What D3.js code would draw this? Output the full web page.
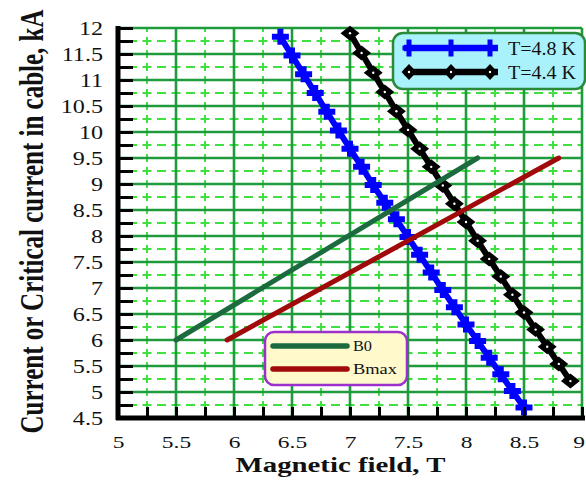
<!DOCTYPE html>
<html><head><meta charset="utf-8">
<script src="https://cdn.jsdelivr.net/npm/d3@7"></script>
<style>html,body{margin:0;padding:0;background:#fff}svg{display:block}</style>
</head><body>
<svg id="chart" width="586" height="480"></svg>
<script>
// ---- data ----
const xTickLabels = ["5","5.5","6","6.5","7","7.5","8","8.5","9"];
const yTickLabels = ["4.5","5","5.5","6","6.5","7","7.5","8","8.5","9","9.5","10","10.5","11","11.5","12"];
const fieldT48   = [6.4,6.5,6.6,6.7,6.8,6.9,7.0,7.1,7.2,7.3,7.4,7.5,7.6,7.7,7.8,7.9,8.0,8.1,8.2,8.3,8.4,8.5];
const currentT48 = [11.83,11.47,11.11,10.75,10.39,10.03,9.68,9.33,8.98,8.64,8.32,7.98,7.64,7.30,6.96,6.63,6.30,5.98,5.66,5.34,5.02,4.70];
const fieldT44   = [7.0,7.1,7.2,7.3,7.4,7.5,7.6,7.7,7.8,7.9,8.0,8.1,8.2,8.3,8.4,8.5,8.6,8.7,8.8,8.9];
const currentT44 = [11.90,11.52,11.14,10.77,10.40,10.04,9.68,9.33,8.97,8.62,8.27,7.91,7.56,7.22,6.87,6.53,6.20,5.87,5.54,5.21];
const fieldB0    = [5.5, 8.1];
const currentB0  = [6.0, 9.5];
const fieldBmax  = [5.94, 8.8];
const currentBmax= [6.0, 9.5];
const seriesNames = ["T=4.8 K","T=4.4 K","B0","Bmax"];
const xTitle = "Magnetic field, T";
const yTitle = "Current or Critical current in cable, kA";

// ---- layout ----
const svg = d3.select("#chart");
const x = d3.scaleLinear().domain([5,9]).range([118,582]);
const y = d3.scaleLinear().domain([4.5,12]).range([418,28]);
const SX = 1.34; // horizontal stretch of text
const FONT = "'Liberation Serif','Times New Roman',serif";
const majorC = "#1f9a3c", minorC = "#3fe03f";

const xMajor = d3.range(5.5, 9.01, 0.5);
const yMajor = d3.range(5, 12.01, 0.5);
const xMinor = d3.range(5.25, 9, 0.5);
const yMinor = d3.range(4.75, 12, 0.5);
const xAll = d3.range(5, 9.01, 0.25);
const yAll = d3.range(4.5, 12.01, 0.25);

// minor grid (dashed)
const grid = svg.append("g");
grid.selectAll(".hm").data(yMinor).join("line")
  .attr("x1", x(5)).attr("x2", x(9)).attr("y1", d=>y(d)).attr("y2", d=>y(d))
  .attr("stroke", minorC).attr("stroke-width", 2)
  .attr("stroke-dasharray", "9,5.5").attr("stroke-dashoffset", 4.5);
grid.selectAll(".vm").data(xMinor).join("line")
  .attr("x1", d=>x(d)).attr("x2", d=>x(d)).attr("y1", y(12)).attr("y2", y(4.5))
  .attr("stroke", minorC).attr("stroke-width", 2)
  .attr("stroke-dasharray", "8,5").attr("stroke-dashoffset", 4);
// major grid
grid.selectAll(".hM").data(yMajor).join("line")
  .attr("x1", x(5)).attr("x2", x(9)).attr("y1", d=>y(d)).attr("y2", d=>y(d))
  .attr("stroke", majorC).attr("stroke-width", 2.6);
grid.selectAll(".vM").data(xMajor).join("line")
  .attr("x1", d=>x(d)).attr("x2", d=>x(d)).attr("y1", y(12)).attr("y2", y(4.5))
  .attr("stroke", majorC).attr("stroke-width", 2.6);

// ---- series ----
const line = d3.line().x(d=>x(d[0])).y(d=>y(d[1]));
const t48 = fieldT48.map((b,i)=>[b,currentT48[i]]);
const t44 = fieldT44.map((b,i)=>[b,currentT44[i]]);
const b0 = fieldB0.map((b,i)=>[b,currentB0[i]]);
const bmax = fieldBmax.map((b,i)=>[b,currentBmax[i]]);

function crossPath(hw, hh, t){
  const a=t/2;
  return `M${-hw},${-a}H${-a}V${-hh}H${a}V${-a}H${hw}V${a}H${a}V${hh}H${-a}V${a}H${-hw}Z`;
}
function diamondPath(hw, hh){ return `M0,${-hh}L${hw},0L0,${hh}L${-hw},0Z`; }

const gS = svg.append("g");
gS.append("path").datum(t48).attr("d", line).attr("fill","none")
  .attr("stroke","#0000ff").attr("stroke-width",6);
gS.selectAll(".c48").data(t48).join("path")
  .attr("transform", d=>`translate(${x(d[0])},${y(d[1])})`)
  .attr("d", crossPath(8.5,8,6)).attr("fill","#0000ff");

gS.append("path").datum(t44).attr("d", line).attr("fill","none")
  .attr("stroke","#000").attr("stroke-width",6);
const dg = gS.selectAll(".d44").data(t44).join("g")
  .attr("transform", d=>`translate(${x(d[0])},${y(d[1])})`);
dg.append("path").attr("d", diamondPath(9.5,7.5)).attr("fill","#000");
dg.append("circle").attr("r",1.2).attr("fill","#fff");

gS.append("path").datum(b0).attr("d", line).attr("fill","none")
  .attr("stroke","#1b6b3e").attr("stroke-width",5).attr("stroke-linecap","round");
gS.append("path").datum(bmax).attr("d", line).attr("fill","none")
  .attr("stroke","#a00a0a").attr("stroke-width",5).attr("stroke-linecap","round");

// ---- axes ----
const yTicksAx = d3.axisLeft(y).tickValues(yAll).tickSize(-15).tickFormat("");
const gyt = svg.append("g").attr("transform",`translate(${x(5)},0)`).call(yTicksAx);
gyt.select(".domain").remove();
gyt.selectAll(".tick line").attr("stroke","#000").attr("stroke-width",3);
const xTicksAx = d3.axisBottom(x).tickValues(xAll).tickSize(-11).tickFormat("");
const gxt = svg.append("g").attr("transform",`translate(0,${y(4.5)})`).call(xTicksAx);
gxt.select(".domain").remove();
gxt.selectAll(".tick line").attr("stroke","#000").attr("stroke-width",3);
svg.append("line").attr("x1",x(5)).attr("x2",x(5)).attr("y1",y(12)-2).attr("y2",y(4.5)+2)
  .attr("stroke","#000").attr("stroke-width",5);
svg.append("line").attr("x1",x(5)-2).attr("x2",x(9)+3).attr("y1",y(4.5)).attr("y2",y(4.5))
  .attr("stroke","#000").attr("stroke-width",5);

// labels
const yLab = d3.axisLeft(y).tickValues(yTickLabels.map(Number))
  .tickFormat((d,i)=>yTickLabels[i]).tickSize(0).tickPadding(0);
const gyl = svg.append("g").attr("transform",`translate(${x(5)},0)`).call(yLab);
gyl.select(".domain").remove();
gyl.attr("font-family",FONT).attr("font-size",18);
gyl.selectAll("text").attr("x", -15/SX).attr("dy","0.36em").attr("fill","#111")
  .attr("transform",`scale(${SX},1)`);

const xLab = d3.axisBottom(x).tickValues(xTickLabels.map(Number))
  .tickFormat((d,i)=>xTickLabels[i]).tickSize(0).tickPadding(0);
const gxl = svg.append("g").attr("transform",`translate(0,${y(4.5)})`).call(xLab);
gxl.select(".domain").remove();
gxl.attr("font-family",FONT).attr("font-size",17.5);
gxl.selectAll("text").attr("y", 30).attr("dy", 0).attr("fill","#111")
  .attr("x", (d,i)=> i===xTickLabels.length-1 ? -3.5/SX : 0)
  .attr("transform",`scale(${SX},1)`);

// titles
svg.append("text").attr("transform",`translate(340.5,471.5) scale(${SX},1)`)
  .attr("text-anchor","middle").attr("font-family",FONT)
  .attr("font-weight","bold").attr("font-size",21.5).attr("fill","#111").text(xTitle);
svg.append("text").attr("transform",`translate(43,221.5) scale(1.38,1) rotate(-90)`)
  .attr("text-anchor","middle").attr("font-family",FONT)
  .attr("font-weight","bold").attr("font-size",25).attr("fill","#111").text(yTitle);

// ---- legend 1 ----
const L1 = svg.append("g");
L1.append("rect").attr("x",393).attr("y",33).attr("width",192).attr("height",56)
  .attr("rx",10).attr("fill","#aaf2fb").attr("stroke","#2a8a3a").attr("stroke-width",2.5);
const l1Items = [
  {name: seriesNames[0], color:"#0000ff", mk:"cross", yy:48},
  {name: seriesNames[1], color:"#000", mk:"diamond", yy:72}
];
l1Items.forEach(it=>{
  L1.append("line").attr("x1",404).attr("x2",498).attr("y1",it.yy).attr("y2",it.yy)
    .attr("stroke",it.color).attr("stroke-width",6.5);
  [409,451,490].forEach(px=>{
    if(it.mk==="cross"){
      L1.append("path").attr("transform",`translate(${px},${it.yy})`)
        .attr("d",crossPath(6.5,8.5,5)).attr("fill",it.color);
    } else {
      L1.append("path").attr("transform",`translate(${px},${it.yy})`)
        .attr("d",diamondPath(7.5,8)).attr("fill",it.color);
      L1.append("circle").attr("cx",px).attr("cy",it.yy).attr("r",1.2).attr("fill","#fff");
    }
  });
  L1.append("text").attr("x",508).attr("y",it.yy+6.5)
    .attr("font-family",FONT).attr("font-size",19)
    .attr("fill","#111").attr("textLength",68).attr("lengthAdjust","spacingAndGlyphs").text(it.name);
});

// ---- legend 2 ----
const L2 = svg.append("g");
L2.append("rect").attr("x",265).attr("y",332).attr("width",142).attr("height",53)
  .attr("rx",9).attr("fill","#fff9cc").attr("stroke","#9b30cc").attr("stroke-width",2.5);
const l2Items = [
  {name: seriesNames[2], color:"#1b6b3e", yy:346, w:19},
  {name: seriesNames[3], color:"#a00a0a", yy:369, w:44}
];
l2Items.forEach(it=>{
  L2.append("line").attr("x1",273).attr("x2",347).attr("y1",it.yy).attr("y2",it.yy)
    .attr("stroke",it.color).attr("stroke-width",5.5).attr("stroke-linecap","round");
  L2.append("text").attr("x",353).attr("y",it.yy+5)
    .attr("font-family",FONT).attr("font-size",15)
    .attr("fill","#111").attr("textLength",it.w).attr("lengthAdjust","spacingAndGlyphs").text(it.name);
});
</script>
</body></html>
